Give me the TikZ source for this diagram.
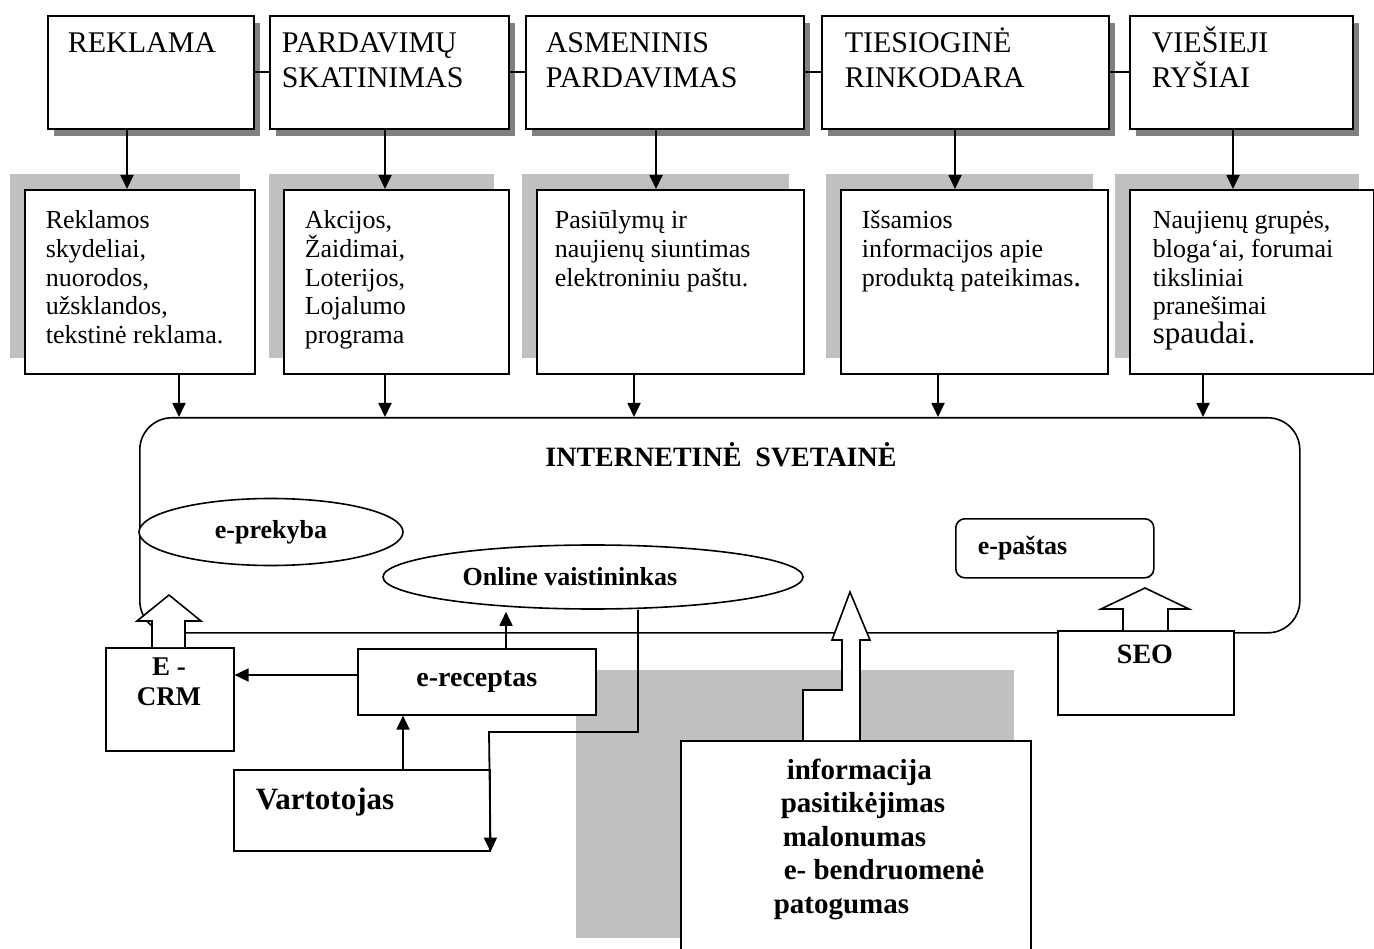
\documentclass[tikz,border=0pt]{standalone}
\usepackage{fontspec}
\setmainfont{Liberation Serif}
\usetikzlibrary{arrows.meta,shapes.geometric,shadows}
\definecolor{shadowdark}{RGB}{128,128,128}
\definecolor{panelgray}{RGB}{192,192,192}

\begin{document}
\begin{tikzpicture}[x=1pt,y=-1pt,line width=1.6pt,
  topbox/.style={draw,fill=white,inner sep=0pt,anchor=north west,minimum height=113pt,
    drop shadow={shadow xshift=6pt,shadow yshift=-7pt,fill=shadowdark,opacity=1}},
  infobox/.style={draw,fill=white,inner sep=0pt,anchor=north west,minimum height=184pt,
    drop shadow={shadow xshift=-15pt,shadow yshift=16pt,fill=panelgray,opacity=1}},
  plainbox/.style={draw,fill=white,inner sep=0pt,anchor=north west},
  % multi-line texts are placed by the baseline of their last line
  toptext/.style={font=\fontsize{30}{35}\selectfont,align=left,inner sep=0pt,anchor=base west},
  midtext/.style={font=\fontsize{26}{28.6}\selectfont,align=left,inner sep=0pt,anchor=base west},
  boldtext/.style={font=\bfseries\fontsize{27}{30}\selectfont,inner sep=0pt},
  arr/.style={-{Triangle[length=14pt,width=13pt]},line width=1.8pt},
  blockarrow/.style={draw,fill=white,line width=1.6pt,line join=miter},
]
\useasboundingbox (0,0) rectangle (1374,949);
\fill[white] (0,0) rectangle (1374,949);

% ---- communication tools (top row)
\node[topbox,minimum width=206pt] (t1) at (47,15) {};
\node[topbox,minimum width=239pt] (t2) at (269,15) {};
\node[topbox,minimum width=278pt] (t3) at (525,15) {};
\node[topbox,minimum width=287pt] (t4) at (821,15) {};
\node[topbox,minimum width=223pt] (t5) at (1129,15) {};
\draw (t1.east) -- (t2.west);
\draw (t2.east) -- (t3.west);
\draw (t3.east) -- (t4.west);
\draw (t4.east) -- (t5.west);
\node[toptext] (t1txt) at (67,53) {REKLAMA};
\node[toptext] (t2txt) at (281,88) {PARDAVIMŲ\\SKATINIMAS};
\node[toptext] (t3txt) at (545,88) {ASMENINIS\\PARDAVIMAS};
\node[toptext] (t4txt) at (844,88) {TIESIOGINĖ\\RINKODARA};
\node[toptext] (t5txt) at (1151,88) {VIEŠIEJI\\RYŠIAI};

% ---- online forms of each tool (second row)
\node[infobox,minimum width=230pt] (r1) at (24,189) {};
\node[infobox,minimum width=225pt] (r2) at (283,189) {};
\node[infobox,minimum width=267pt] (r3) at (536,189) {};
\node[infobox,minimum width=267pt] (r4) at (840,189) {};
\node[infobox,minimum width=244pt] (r5) at (1129,189) {};
\node[midtext] (r1txt) at (45,343.4) {Reklamos\\skydeliai,\\nuorodos,\\užsklandos,\\tekstinė reklama.};
\node[midtext] (r2txt) at (304,343.4) {Akcijos,\\Žaidimai,\\Loterijos,\\Lojalumo\\programa};
\node[midtext] (r3txt) at (554,286.2) {Pasiūlymų ir\\naujienų siuntimas\\elektroniniu paštu.};
\node[midtext] (r4txt) at (861,286.2) {Išsamios\\informacijos apie\\produktą pateikimas{\fontsize{31}{28.6}\selectfont .}};
\node[midtext] (r5txt) at (1152,343.4) {Naujienų grupės,\\bloga‘ai, forumai\\tiksliniai\\pranešimai\\{\fontsize{31}{28.6}\selectfont spaudai.}};

% arrow columns
\coordinate (a1) at (127,0);
\coordinate (a2) at (385,0);
\coordinate (a3) at (656,0);
\coordinate (a4) at (955,0);
\coordinate (a5) at (1233,0);
\draw[arr] (t1.south -| a1) -- (r1.north -| a1);
\draw[arr] (t2.south -| a2) -- (r2.north -| a2);
\draw[arr] (t3.south -| a3) -- (r3.north -| a3);
\draw[arr] (t4.south -| a4) -- (r4.north -| a4);
\draw[arr] (t5.south -| a5) -- (r5.north -| a5);

% ---- web site frame
\node[draw,rounded corners=32pt,inner sep=0pt,anchor=north west,
      minimum width=1160pt,minimum height=215pt] (web) at (139,417) {};
\node[font=\bfseries\fontsize{28}{32}\selectfont,inner sep=0pt,anchor=base] (webtxt) at (721,467) {INTERNETINĖ~ SVETAINĖ};

\coordinate (b1) at (179,0);
\coordinate (b2) at (385,0);
\coordinate (b3) at (634,0);
\coordinate (b4) at (938,0);
\coordinate (b5) at (1203,0);
\draw[arr] (r1.south -| b1) -- (web.north -| b1);
\draw[arr] (r2.south -| b2) -- (web.north -| b2);
\draw[arr] (r3.south -| b3) -- (web.north -| b3);
\draw[arr] (r4.south -| b4) -- (web.north -| b4);
\draw[arr] (r5.south -| b5) -- (web.north -| b5);

\node[draw,ellipse,fill=white,inner sep=0pt,minimum width=264pt,minimum height=67pt,
      font=\bfseries\fontsize{26}{30}\selectfont] (ep) at (271,532) {e-prekyba};
\node[draw,ellipse,fill=white,inner sep=0pt,minimum width=420pt,minimum height=64pt,
      font=\bfseries\fontsize{26}{30}\selectfont] (on) at (593,577) {Online vaistininkas\hspace*{46pt}};
\node[plainbox,rounded corners=9pt,minimum width=198pt,minimum height=59pt] (em) at (955,518) {};
\node[boldtext,font=\bfseries\fontsize{26}{30}\selectfont,anchor=west] (emtxt) at (977,548) {e-paštas};

% ---- customer side
\fill[panelgray] (576,670) rectangle (1014,938);

\node[plainbox,minimum width=128pt,minimum height=103pt] (crm) at (105,647) {};
\node[boldtext,align=center] (crmtxt) at (169,682) {E -\\CRM};
\node[plainbox,minimum width=238pt,minimum height=66pt,
      font=\bfseries\fontsize{28}{32}\selectfont] (er) at (357,648) {e-receptas};
\node[plainbox,minimum width=256pt,minimum height=81pt] (v) at (233,769) {};
\node[boldtext,font=\bfseries\fontsize{31}{34}\selectfont,anchor=west] (vtxt) at (255,802) {Vartotojas};
\node[plainbox,minimum width=176pt,minimum height=84pt] (seo) at (1057,630) {};
\node[boldtext,font=\bfseries\fontsize{28}{32}\selectfont] (seotxt) at (1145,654) {SEO};
\node[plainbox,minimum width=350pt,minimum height=215pt] (inf) at (680,740) {};
\node[font=\bfseries\fontsize{29}{33.5}\selectfont,align=left,inner sep=0pt,anchor=base west] (inftxt) at (773,913)
  {\hspace*{13pt}informacija\\\hspace*{7pt}pasitikėjimas\\\hspace*{9pt}malonumas\\\hspace*{10pt}e- bendruomenė\\patogumas};

% block arrows into the web site
\draw[blockarrow] (152,647) -- (152,621) -- (137,621) -- (169,595) -- (201,621) -- (185,621) -- (185,647);
\draw[blockarrow] (803,740) -- (803,690) -- (842,690) -- (842,640) -- (832,640) -- (850,592)
  -- (870,640) -- (860,640) -- (860,740);
\draw[blockarrow] (1123,630) -- (1123,609) -- (1101,609) -- (1145,588) -- (1189,609) -- (1168,609) -- (1168,630);

% links between customer, prescription and pharmacist
\coordinate (c506) at (506,0);
\coordinate (c403) at (403,0);
\coordinate (y675) at (0,675);
\coordinate (k638) at (638,732);
\coordinate (k489) at (489,732);
\draw[arr,shorten >=2pt] (er.north -| c506) -- (c506 |- on.south);
\draw[arr] (er.west |- y675) -- (crm.east |- y675);
\draw[arr] (v.north -| c403) -- (er.south -| c403);
\draw[arr] (on.south -| k638) -- (k638) -- (k489) -- (v.south east);
\end{tikzpicture}
\end{document}
